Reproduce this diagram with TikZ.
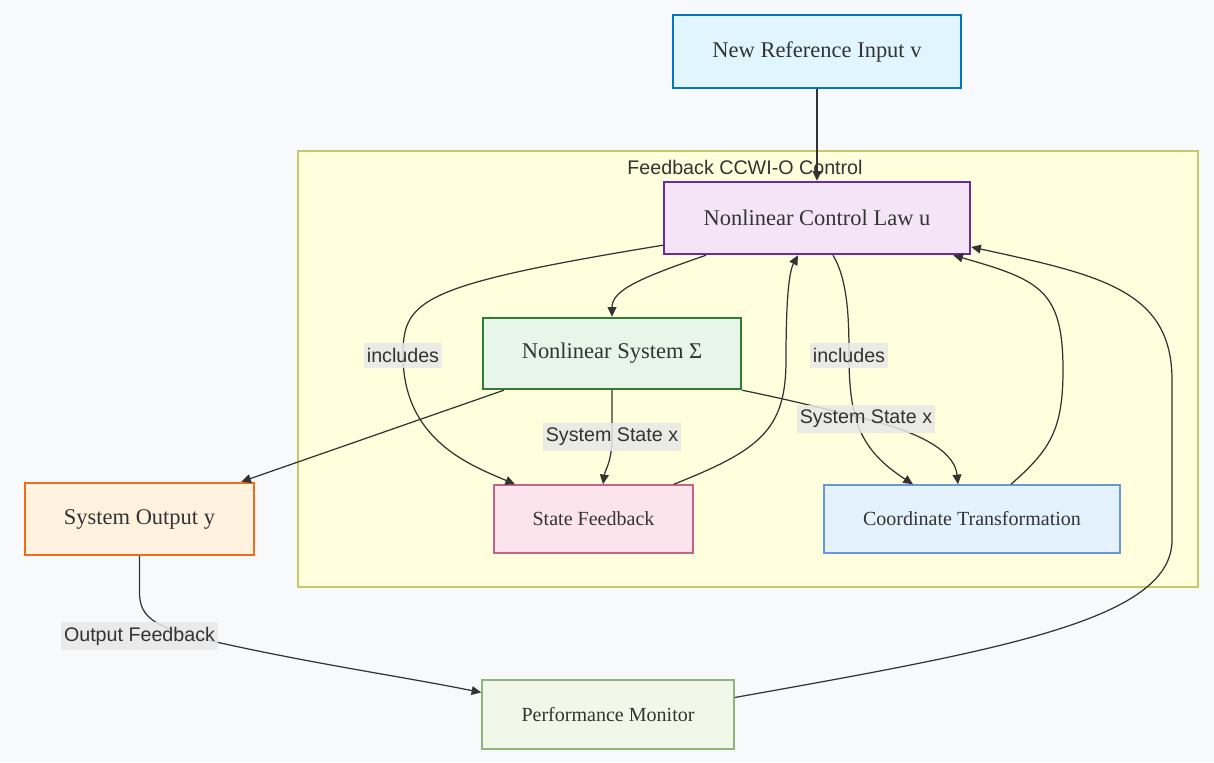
\documentclass[tikz,border=0pt]{standalone}
\usepackage{fontspec}
\setmainfont{Liberation Serif}
\setsansfont{Liberation Sans}
\usetikzlibrary{arrows.meta,calc}
\definecolor{bgcol}{HTML}{F8F9FA}
\definecolor{clusterfill}{HTML}{FFFFDE}
\definecolor{clusterline}{HTML}{C8C86A}
\definecolor{linecol}{HTML}{333333}
\definecolor{lblcol}{HTML}{E8E8E8}
\definecolor{txtcol}{HTML}{333333}
\definecolor{refFill}{HTML}{E1F5FE}
\definecolor{refLine}{HTML}{0277BD}
\definecolor{ctrlFill}{HTML}{F3E5F5}
\definecolor{ctrlLine}{HTML}{6A2C9E}
\definecolor{sysFill}{HTML}{E8F5E9}
\definecolor{sysLine}{HTML}{2E7D32}
\definecolor{sfbFill}{HTML}{FCE4EC}
\definecolor{sfbLine}{HTML}{C6628C}
\definecolor{coordFill}{HTML}{E3F2FD}
\definecolor{coordLine}{HTML}{6A98D6}
\definecolor{outFill}{HTML}{FFF3E0}
\definecolor{outLine}{HTML}{EF6C1A}
\definecolor{perfFill}{HTML}{F1F8E9}
\definecolor{perfLine}{HTML}{8DB57E}

\begin{document}
\begin{tikzpicture}[x=0.02cm,y=-0.02cm,
    box/.style={draw,rectangle,inner sep=0pt,line width=0.85pt,text=txtcol,
      font=\fontsize{11.4}{14}\selectfont},
    bigbox/.style={box,line width=1.4pt,font=\fontsize{12.8}{15}\selectfont},
    lbl/.style={fill=lblcol,fill opacity=0.85,text opacity=1,text=txtcol,inner xsep=1.6pt,inner ysep=3pt,
      font=\sffamily\fontsize{11.2}{13}\selectfont},
    link/.style={draw=linecol,line width=0.7pt,-{Triangle[length=5.5pt,width=5pt]}}]

    % background and cluster
    \fill[bgcol] (0,0) rectangle (1214,762);
    \draw[draw=clusterline,fill=clusterfill,line width=0.7pt] (298,151) rectangle (1198,587);
    \node[text=txtcol,font=\sffamily\fontsize{11.2}{13}\selectfont] (title) at (745,167) {Feedback CCWI-O Control};

    % boxes
    \node[bigbox,fill=refFill,draw=refLine,minimum width=5.76cm,minimum height=1.46cm] (ref) at (817,51.5) {New Reference Input v};
    \node[bigbox,fill=ctrlFill,draw=ctrlLine,minimum width=6.12cm,minimum height=1.44cm] (ctrl) at (817,218) {Nonlinear Control Law u};
    \node[bigbox,fill=sysFill,draw=sysLine,minimum width=5.16cm,minimum height=1.42cm] (sys) at (612,353.5) {Nonlinear System Σ};
    \node[box,fill=sfbFill,draw=sfbLine,minimum width=3.98cm,minimum height=1.36cm] (sfb) at (593.5,519) {State Feedback};
    \node[box,fill=coordFill,draw=coordLine,minimum width=5.92cm,minimum height=1.36cm] (coord) at (972,519) {Coordinate Transformation};
    \node[bigbox,fill=outFill,draw=outLine,minimum width=4.58cm,minimum height=1.44cm] (out) at (139.5,519) {System Output y};
    \node[box,fill=perfFill,draw=perfLine,minimum width=5.04cm,minimum height=1.38cm] (perf) at (608,714.5) {Performance Monitor};

    % connectors
    \draw[link] (ref.south) -- (ctrl.north);
    \draw[link] ($(ctrl.south)+(-111,0)$) .. controls (640,278) and (612,290) .. (sys.north);
    \draw[link] ($(ctrl.south west)+(0,-10)$) .. controls (420,285) and (403,300) .. (403,355)
      node[lbl] (inclL) {includes} .. controls (403,440) and (470,465) .. ($(sfb.north)+(-78.5,0)$);
    \draw[link] ($(ctrl.south)+(16,0)$) .. controls (848,280) and (849,320) .. (849,355)
      node[lbl] (inclR) {includes} .. controls (849,420) and (860,450) .. ($(coord.north)+(-59,0)$);
    \draw[link] (sys.south) .. controls (612,420) .. (612,437)
      node[lbl] (stateA) {System State x} .. controls (612,462) and (605,470) .. ($(sfb.north)+(9.5,0)$);
    \draw[link] (sys.south east) .. controls (790,400) and (830,410) .. (866,419)
      node[lbl] (stateB) {System State x} .. controls (930,435) and (955,455) .. ($(coord.north)+(-14,0)$);
    \draw[link] ($(sys.south west)+(22,0)$) -- ($(out.north east)+(-14,0)$);
    \draw[link] ($(sfb.north east)+(-20,0)$) .. controls (760,450) and (786,430) .. (786,360)
      .. controls (786,290) and (790,270) .. ($(ctrl.south)+(-19,0)$);
    \draw[link] ($(coord.north)+(39,0)$) .. controls (1050,450) and (1063,430) .. (1063,370)
      .. controls (1063,290) and (1040,280) .. ($(ctrl.south east)+(-18,0)$);
    \draw[link] (out.south) -- (139.5,592) .. controls (139.5,614) and (150,624) .. (190,636)
      .. controls (300,662) and (400,676) .. ($(perf.west)+(0,-22)$);
    \node[lbl] (outfb) at (139.5,636) {Output Feedback};
    \draw[link] ($(perf.east)+(0,-17)$) .. controls (1000,650) and (1172,620) .. (1172,540)
      -- (1172,380) .. controls (1172,290) and (1100,275) .. ($(ctrl.east)+(0,29)$);
\end{tikzpicture}
\end{document}
